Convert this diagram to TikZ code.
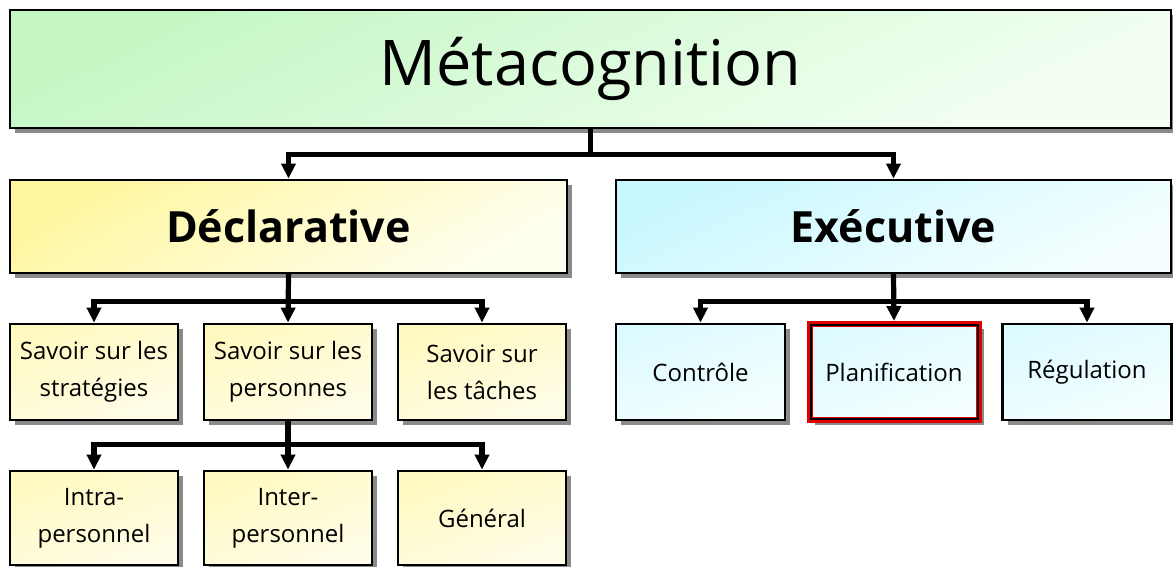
\documentclass[tikz,border=0pt]{standalone}
\usepackage{fontspec}
\setmainfont{Open Sans}
\usetikzlibrary{arrows.meta,shadows}
\definecolor{gA}{HTML}{C4F7C4}
\definecolor{gB}{HTML}{F4FFF4}
\definecolor{yA}{HTML}{FFF6A0}
\definecolor{yB}{HTML}{FFFFF0}
\definecolor{ysA}{HTML}{FFF9C0}
\definecolor{ysB}{HTML}{FFFDE8}
\definecolor{bA}{HTML}{C8F7FF}
\definecolor{bB}{HTML}{F6FFFF}
\definecolor{bsA}{HTML}{DCFAFF}
\definecolor{bsB}{HTML}{F6FFFF}
\definecolor{shad}{HTML}{8A8A8A}
\definecolor{redb}{HTML}{E00000}
\begin{document}
\begin{tikzpicture}[x=1pt,y=-1pt,
  box/.style={draw=black, line width=2.8pt, inner sep=0pt, align=center,
    general shadow={fill=shad, shadow xshift=5pt, shadow yshift=-5pt}},
  greenbox/.style={box, top color=gA, bottom color=gB, shading angle=25},
  ybig/.style={box, top color=yA, bottom color=yB, shading angle=30},
  ysmall/.style={box, top color=ysA, bottom color=ysB, shading angle=20,
    minimum width=168pt, font=\fontsize{24}{37}\selectfont},
  bbig/.style={box, top color=bA, bottom color=bB, shading angle=25},
  bsmall/.style={box, top color=bsA, bottom color=bsB, shading angle=20,
    minimum width=169pt, minimum height=96pt, font=\fontsize{24}{37}\selectfont},
  arr/.style={line width=5.2pt, -{Triangle[length=15pt,width=14pt]}},
  ln/.style={line width=5.2pt}]
\useasboundingbox (0,0) rectangle (1173,567);
\fill[white] (0,0) rectangle (1173,567);
% top
\node[greenbox, minimum width=1161pt, minimum height=118pt,
  font=\fontsize{63}{64}\selectfont] (top) at (590.5,69) {\raisebox{-4pt}{Métacognition}};
% second level
\node[ybig, minimum width=557pt, minimum height=93pt,
  font=\bfseries\fontsize{43}{46}\selectfont] (decl) at (288.5,226.5) {\raisebox{-3pt}{Déclarative}};
\node[bbig, minimum width=555pt, minimum height=93pt,
  font=\bfseries\fontsize{43}{46}\selectfont] (exec) at (893.5,226.5) {\raisebox{-3pt}{Exécutive}};
% third level
\node[ysmall, minimum height=96pt] (strat) at (94,372) {Savoir sur les\\stratégies};
\node[ysmall, minimum height=96pt] (pers) at (288,372) {Savoir sur les\\personnes};
\node[ysmall, minimum height=96pt] (tach) at (482,372) {Savoir sur\\les tâches};
\node[bsmall] (ctrl) at (700.5,372) {Contrôle};
\node[bsmall, draw=redb, line width=6pt] (plan) at (894,372) {Planification};
\draw[black, line width=2pt] ([shift={(4pt,-4pt)}]plan.north west) rectangle ([shift={(-4pt,4pt)}]plan.south east);
\node[bsmall] (regu) at (1087,372) {Régulation};
% fourth level
\node[ysmall, minimum height=94pt] (intra) at (94,518) {Intra-\\personnel};
\node[ysmall, minimum height=94pt] (inter) at (288,518) {Inter-\\personnel};
\node[ysmall, minimum height=94pt] (gen) at (482,518) {Général};
% connectors
\draw[ln] (top.south) -- ++(0,25) coordinate (j1);
\draw[arr] (j1) -| (decl.north);
\draw[arr] (j1) -| (exec.north);
\draw[arr] (decl.south) -- (pers.north);
\draw[ln] (decl.south) -- ++(0,27) coordinate (j2);
\draw[arr] (j2) -| (strat.north);
\draw[arr] (j2) -| (tach.north);
\draw[arr] (exec.south) -- (plan.north);
\draw[ln] (exec.south) -- ++(0,27) coordinate (j3);
\draw[arr] (j3) -| (ctrl.north);
\draw[arr] (j3) -| (regu.north);
\draw[arr] (pers.south) -- (inter.north);
\draw[ln] (pers.south) -- ++(0,23) coordinate (j4);
\draw[arr] (j4) -| (intra.north);
\draw[arr] (j4) -| (gen.north);
\end{tikzpicture}
\end{document}
